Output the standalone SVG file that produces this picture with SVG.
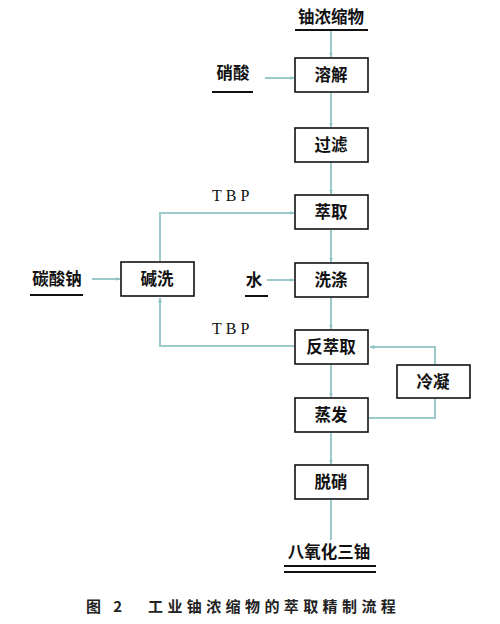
<svg xmlns="http://www.w3.org/2000/svg" width="500" height="624" viewBox="0 0 500 624">
<defs>
<marker id="ah" viewBox="0 0 10 10" refX="9" refY="5" markerWidth="5" markerHeight="5" orient="auto" markerUnits="userSpaceOnUse"><path d="M0,1 L10,5 L0,9 z" fill="#8fc3c3"/></marker>
</defs>
<style>
.box{fill:#fff;stroke:#111;stroke-width:1.6}
.t{font-family:"Noto Sans CJK SC","Liberation Sans",sans-serif;font-size:16.5px;font-weight:bold;fill:#111;text-anchor:middle}
.lbl{font-family:"Liberation Serif",serif;font-size:16px;fill:#111;letter-spacing:4px}
.c{fill:none;stroke:#9ccaca;stroke-width:2}
.u{stroke:#111;stroke-width:2}
.cap{font-family:"Noto Sans CJK SC",sans-serif;font-size:15px;font-weight:bold;fill:#222;letter-spacing:4.4px}
</style>
<rect width="500" height="624" fill="#fff"/>
<g id="connectors">
<path class="c" d="M331,31 V57" marker-end="url(#ah)"/>
<path class="c" d="M265,78 H294" marker-end="url(#ah)"/>
<path class="c" d="M331,93 V127" marker-end="url(#ah)"/>
<path class="c" d="M331,163 V194" marker-end="url(#ah)"/>
<path class="c" d="M331,230 V262" marker-end="url(#ah)"/>
<path class="c" d="M331,297 V329" marker-end="url(#ah)"/>
<path class="c" d="M331,365 V397" marker-end="url(#ah)"/>
<path class="c" d="M331,433 V464" marker-end="url(#ah)"/>
<path class="c" d="M331,500 V540"/>
<path class="c" d="M92,279 H120" marker-end="url(#ah)"/>
<path class="c" d="M267,280 H294" marker-end="url(#ah)"/>
<path class="c" d="M160,261 V213 H294" marker-end="url(#ah)"/>
<path class="c" d="M294,346 H160 V298" marker-end="url(#ah)"/>
<path class="c" d="M369,418 H435 V399"/>
<path class="c" d="M435,364 V347 H370" marker-end="url(#ah)"/>
</g>
<g id="n_uconc"><text class="t" x="331" y="23">铀浓缩物</text><line class="u" x1="295" y1="30" x2="368" y2="30"/></g>
<g id="n_hno3"><text class="t" x="233" y="79">硝酸</text><line class="u" x1="212" y1="92" x2="253" y2="92"/></g>
<g id="n_dissolve"><rect class="box" x="295" y="58" width="73" height="34"/><text class="t" x="331" y="81">溶解</text></g>
<g id="n_filter"><rect class="box" x="295" y="128" width="73" height="34"/><text class="t" x="331" y="151">过滤</text></g>
<g id="n_extract"><rect class="box" x="295" y="195" width="73" height="34"/><text class="t" x="331" y="218">萃取</text></g>
<g id="n_wash"><rect class="box" x="295" y="263" width="73" height="34"/><text class="t" x="331" y="286">洗涤</text></g>
<g id="n_strip"><rect class="box" x="295" y="330" width="73" height="34"/><text class="t" x="331" y="353">反萃取</text></g>
<g id="n_evap"><rect class="box" x="295" y="398" width="73" height="34"/><text class="t" x="331" y="421">蒸发</text></g>
<g id="n_denit"><rect class="box" x="295" y="465" width="73" height="34"/><text class="t" x="331" y="488">脱硝</text></g>
<g id="n_cond"><rect class="box" x="397" y="365" width="73" height="33"/><text class="t" x="433" y="388">冷凝</text></g>
<g id="n_alkwash"><rect class="box" x="121" y="262" width="73" height="34"/><text class="t" x="157" y="285">碱洗</text></g>
<g id="n_na2co3"><text class="t" x="57" y="285">碳酸钠</text><line class="u" x1="30" y1="295" x2="83" y2="295"/></g>
<g id="n_water"><text class="t" x="254" y="286">水</text><line class="u" x1="245" y1="296" x2="268" y2="296"/></g>
<g id="n_u3o8"><text class="t" x="329" y="558">八氧化三铀</text><line class="u" x1="284" y1="566" x2="376" y2="566"/><line class="u" x1="284" y1="572" x2="376" y2="572"/></g>
<text class="lbl" x="212" y="201">TBP</text>
<text class="lbl" x="212" y="334">TBP</text>
<text class="cap" x="86" y="612">图 2</text>
<text class="cap" x="148" y="612">工业铀浓缩物的萃取精制流程</text>
</svg>
